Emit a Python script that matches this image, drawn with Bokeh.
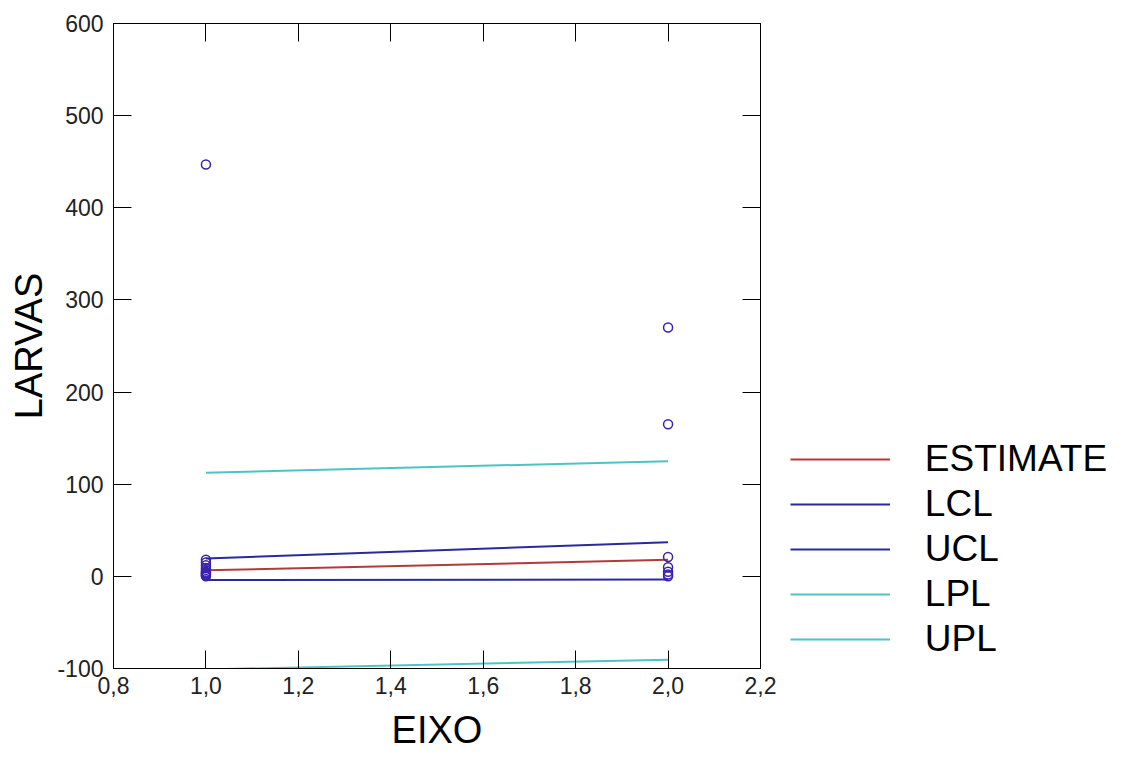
from bokeh.plotting import figure
from bokeh.models import (Range1d, FixedTicker, CustomJSTickFormatter, LinearAxis,
                          Legend, LegendItem)
from bokeh.embed import file_html
from bokeh.resources import INLINE

# ---- data ----
x_fit = [1.0, 2.0]
estimate = [6.5, 18.0]
lcl = [-4.0, -3.5]
ucl = [19.5, 37.0]
lpl = [-101.0, -90.5]
upl = [112.5, 125.0]

x_obs = [1, 1, 1, 1, 1, 1, 1, 1, 1, 1, 1, 1, 2, 2, 2, 2, 2, 2, 2]
y_obs = [447, 0, 1, 2, 3, 5, 7, 9, 12, 15, 18, 4, 270, 165, 21, 10, 5, 2, 0]

x_ticks = [0.8, 1.0, 1.2, 1.4, 1.6, 1.8, 2.0, 2.2]
y_ticks = [-100, 0, 100, 200, 300, 400, 500, 600]

FONT = "Liberation Sans"
RED = "#b33a3a"
NAVY = "#2a2a9c"
CYAN = "#4cc4c4"
PT = "#3a20b0"

p = figure(frame_width=647, frame_height=645, output_backend="svg", toolbar_location=None,
           x_range=Range1d(0.8, 2.2), y_range=Range1d(-100, 600),
           min_border_left=113, min_border_right=0, min_border_top=23,
           min_border_bottom=90, x_axis_label="EIXO", y_axis_label="LARVAS")
p.xgrid.visible = False
p.ygrid.visible = False
p.outline_line_color = "black"
p.outline_line_width = 1
p.background_fill_color = "white"
p.border_fill_color = "white"

fmt = CustomJSTickFormatter(code="return tick.toFixed(1).replace('.', ',');")
yfmt = CustomJSTickFormatter(code="return tick.toFixed(0);")
blank = CustomJSTickFormatter(code="return '';")

for ax in (p.xaxis[0], p.yaxis[0]):
    ax.major_tick_in = 18
    ax.major_tick_out = 0
    ax.minor_tick_in = 0
    ax.minor_tick_out = 0
    ax.axis_line_color = "black"
    ax.major_tick_line_color = "black"
    ax.major_label_text_font = FONT
    ax.major_label_text_font_size = "23px"
    ax.major_label_text_color = "#222222"
    ax.axis_label_text_font = FONT
    ax.axis_label_text_font_size = "38px"
    ax.axis_label_text_font_style = "normal"
    ax.axis_label_text_color = "black"

p.xaxis[0].ticker = FixedTicker(ticks=x_ticks)
p.xaxis[0].formatter = fmt
p.xaxis[0].major_label_standoff = 8
p.xaxis[0].axis_label_standoff = 12
p.yaxis[0].ticker = FixedTicker(ticks=y_ticks)
p.yaxis[0].formatter = yfmt
p.yaxis[0].major_label_standoff = 10
p.yaxis[0].axis_label_standoff = 4

top = LinearAxis(ticker=FixedTicker(ticks=x_ticks), formatter=blank,
                 major_tick_in=18, major_tick_out=0, minor_tick_in=0, minor_tick_out=0,
                 major_label_text_font_size="1px", major_label_standoff=0)
right = LinearAxis(ticker=FixedTicker(ticks=y_ticks), formatter=blank,
                   major_tick_in=18, major_tick_out=0, minor_tick_in=0, minor_tick_out=0,
                   major_label_text_font_size="1px", major_label_standoff=0)
p.add_layout(top, "above")
p.add_layout(right, "right")

r_est = p.line(x_fit, estimate, line_color=RED, line_width=2)
r_lcl = p.line(x_fit, lcl, line_color=NAVY, line_width=2)
r_ucl = p.line(x_fit, ucl, line_color=NAVY, line_width=2)
r_lpl = p.line(x_fit, lpl, line_color=CYAN, line_width=2)
r_upl = p.line(x_fit, upl, line_color=CYAN, line_width=2)
p.scatter(x_obs, y_obs, marker="circle", size=9, fill_color=None,
          line_color=PT, line_width=1.5)

legend = Legend(items=[
    LegendItem(label="ESTIMATE", renderers=[r_est]),
    LegendItem(label="LCL", renderers=[r_lcl]),
    LegendItem(label="UCL", renderers=[r_ucl]),
    LegendItem(label="LPL", renderers=[r_lpl]),
    LegendItem(label="UPL", renderers=[r_upl]),
], location=(-170, 8), orientation="vertical")
legend.label_text_font = FONT
legend.label_text_font_size = "37px"
legend.label_text_color = "black"
legend.glyph_width = 100
legend.glyph_height = 40
legend.label_height = 40
legend.label_standoff = 35
legend.spacing = 3
legend.padding = 0
legend.margin = 0
legend.border_line_color = None
legend.background_fill_alpha = 0
p.add_layout(legend, "right")

open("out.html", "w").write(file_html(p, INLINE))
